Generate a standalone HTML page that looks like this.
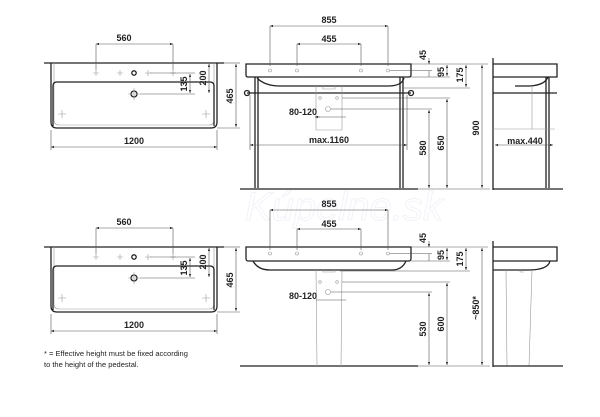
<!DOCTYPE html>
<html><head><meta charset="utf-8"><style>
html,body{margin:0;padding:0;background:#fff;width:600px;height:417px;overflow:hidden}
svg{display:block}
text{font-family:"Liberation Sans",sans-serif;font-weight:bold;font-size:9px;fill:#222}
.t{stroke:#222;fill:none;stroke-width:1.3}
.d{stroke:#555;fill:none;stroke-width:0.6}
.g{stroke:#999;fill:none;stroke-width:0.6}
</style></head><body>
<svg width="600" height="417" viewBox="0 0 600 417" xmlns="http://www.w3.org/2000/svg">
<defs>
<marker id="a" viewBox="0 0 6 6" refX="6" refY="3" markerWidth="5" markerHeight="5" orient="auto-start-reverse"><path d="M0,0.8 L6,3 L0,5.2z" fill="#222"/></marker>
</defs>
<text x="245" y="220" style="font-size:40px;font-style:italic;font-weight:normal;fill:none;stroke:#f1f3f8;stroke-width:1">Kúpelne.sk</text>

<!-- top-left plan view -->
<g id="plan">
<line class="t" x1="44" y1="63" x2="224" y2="63"/>
<path class="t" d="M51,63 V122 Q51,128 57,128 H211 Q217,128 217,122 V63"/>
<path class="g" d="M54,63 V120 Q54,125 59,125 H209 Q214,125 214,120 V63"/>
<path class="t" d="M53,126 V86 Q53,82 57,82 H210 Q214,82 214,86 V126" stroke-width="0.9"/>
<g class="g"><path d="M93,73 h6 M96,70 v6 M117,73 h6 M120,70 v6 M145,73 h6 M148,70 v6 M170,73 h6 M173,70 v6"/></g>
<circle cx="134" cy="73" r="2.2" class="t" stroke-width="1"/>
<circle cx="134" cy="94" r="3" class="t" stroke-width="1"/>
<path class="g" d="M128,94 h12 M134,88 v12 M58,114 h8 M62,110 v8 M202,114 h8 M206,110 v8"/>
<line class="d" x1="96" y1="44" x2="96" y2="70"/><line class="d" x1="173" y1="44" x2="173" y2="70"/>
<line class="d" x1="96" y1="44" x2="173" y2="44" marker-start="url(#a)" marker-end="url(#a)"/>
<text x="124" y="41" text-anchor="middle">560</text>
<line class="d" x1="150" y1="73" x2="195" y2="73"/><line class="d" x1="140" y1="94" x2="195" y2="94"/>
<line class="d" x1="190" y1="74" x2="190" y2="93" marker-start="url(#a)" marker-end="url(#a)"/>
<text transform="translate(187,84) rotate(-90)" text-anchor="middle">135</text>
<line class="d" x1="209" y1="64" x2="209" y2="93" marker-start="url(#a)" marker-end="url(#a)"/>
<text transform="translate(206,78) rotate(-90)" text-anchor="middle">200</text>
<line class="d" x1="224" y1="63" x2="240" y2="63"/><line class="d" x1="217" y1="128" x2="240" y2="128"/>
<line class="d" x1="236" y1="64" x2="236" y2="127" marker-start="url(#a)" marker-end="url(#a)"/>
<text transform="translate(233,96) rotate(-90)" text-anchor="middle">465</text>
<line class="d" x1="51" y1="130" x2="51" y2="150"/><line class="d" x1="217" y1="130" x2="217" y2="150"/>
<line class="d" x1="51" y1="147" x2="217" y2="147" marker-start="url(#a)" marker-end="url(#a)"/>
<text x="134" y="144" text-anchor="middle">1200</text>
</g>
<use href="#plan" transform="translate(0,184)"/>

<!-- top front view (console) -->
<path class="t" d="M246,64 H411 V75 Q411,77 409,77 H248 Q246,77 246,75Z"/>
<path class="t" d="M257,78 Q265,86 280,86 H388 Q402,86 404,78" stroke-width="0.9"/>
<line class="t" x1="255" y1="77" x2="255" y2="188"/><line class="t" x1="258" y1="77" x2="258" y2="188"/>
<line class="t" x1="400" y1="77" x2="400" y2="188"/><line class="t" x1="403" y1="77" x2="403" y2="188"/>
<line class="t" x1="247" y1="93" x2="411" y2="93" stroke-width="1.6"/>
<circle cx="247" cy="93" r="2.5" class="t"/><circle cx="411" cy="93" r="2.5" class="t"/>
<line class="t" x1="240" y1="189" x2="418" y2="189" stroke-width="1.6"/>
<g class="g"><path d="M316,86 V130 H342 V86 M323,86 v3 h12 v-3"/><circle cx="270" cy="70.5" r="1.5"/><circle cx="297" cy="70.5" r="1.5"/><circle cx="361" cy="70.5" r="1.5"/><circle cx="388" cy="70.5" r="1.5"/><circle cx="320" cy="98" r="1.3"/><circle cx="337" cy="98" r="1.3"/><circle cx="328" cy="109" r="2.5"/></g>
<line class="d" x1="270" y1="26" x2="270" y2="66"/><line class="d" x1="388" y1="26" x2="388" y2="66"/>
<line class="d" x1="270" y1="26" x2="388" y2="26" marker-start="url(#a)" marker-end="url(#a)"/>
<text x="329" y="23" text-anchor="middle">855</text>
<line class="d" x1="297" y1="44" x2="297" y2="66"/><line class="d" x1="361" y1="44" x2="361" y2="66"/>
<line class="d" x1="297" y1="44" x2="361" y2="44" marker-start="url(#a)" marker-end="url(#a)"/>
<text x="329" y="42" text-anchor="middle">455</text>
<line class="d" x1="316" y1="117" x2="346" y2="117"/><line class="d" x1="316" y1="117" x2="316" y2="117"/>
<line class="d" x1="315" y1="117" x2="320" y2="117" marker-start="url(#a)"/>
<text x="303" y="115" text-anchor="middle">80-120</text>
<line class="d" x1="250" y1="145" x2="407" y2="145" marker-start="url(#a)" marker-end="url(#a)"/>
<line class="d" x1="250" y1="95" x2="250" y2="150"/><line class="d" x1="407" y1="95" x2="407" y2="150"/>
<text x="329" y="143" text-anchor="middle">max.1160</text>
<line class="d" x1="390" y1="70.5" x2="432" y2="70.5"/><line class="d" x1="411" y1="77" x2="450" y2="77"/>
<line class="d" x1="404" y1="88" x2="470" y2="88"/><line class="d" x1="411" y1="64" x2="488" y2="64"/>
<line class="d" x1="342" y1="98" x2="450" y2="98"/><line class="d" x1="331" y1="109" x2="432" y2="109"/>
<line class="d" x1="429" y1="58" x2="429" y2="64" marker-end="url(#a)"/><line class="d" x1="429" y1="71" x2="429" y2="77"/>
<text transform="translate(426,55) rotate(-90)" text-anchor="middle">45</text>
<line class="d" x1="447" y1="65" x2="447" y2="76" marker-start="url(#a)" marker-end="url(#a)"/>
<text transform="translate(444,72) rotate(-90)" text-anchor="middle">95</text>
<line class="d" x1="466" y1="65" x2="466" y2="87" marker-start="url(#a)" marker-end="url(#a)"/>
<text transform="translate(463,75) rotate(-90)" text-anchor="middle">175</text>
<line class="d" x1="429" y1="110" x2="429" y2="188" marker-start="url(#a)" marker-end="url(#a)"/>
<text transform="translate(426,148) rotate(-90)" text-anchor="middle">580</text>
<line class="d" x1="447" y1="99" x2="447" y2="188" marker-start="url(#a)" marker-end="url(#a)"/>
<text transform="translate(444,143) rotate(-90)" text-anchor="middle">650</text>
<line class="d" x1="482" y1="65" x2="482" y2="188" marker-start="url(#a)" marker-end="url(#a)"/>
<text transform="translate(479,128) rotate(-90)" text-anchor="middle">900</text>
<line class="d" x1="418" y1="189" x2="490" y2="189"/>

<!-- top side view -->
<line class="t" x1="493" y1="58" x2="493" y2="190"/>
<path class="t" d="M493,64 H557 V77 H493"/>
<path class="t" d="M548,77 Q545,85 530,86 H515" stroke-width="0.9"/>
<line class="t" x1="546" y1="77" x2="546" y2="188"/><line class="t" x1="549" y1="77" x2="549" y2="188"/>
<line class="t" x1="493" y1="93" x2="557" y2="93" stroke-width="1.6"/>
<line class="t" x1="493" y1="189" x2="563" y2="189" stroke-width="1.6"/>
<path class="g" d="M493,129 H555 M532,86 V129"/>
<line class="d" x1="495" y1="145" x2="553" y2="145" marker-start="url(#a)" marker-end="url(#a)"/>
<text x="525" y="144" text-anchor="middle">max.440</text>

<!-- bottom front view (pedestal) -->
<path class="t" d="M246,247 H411 V258 Q411,261 409,261 H248 Q246,261 246,258Z"/>
<path class="t" d="M253,261 Q258,270 270,270 H392 Q402,270 406,261"/>
<line class="t" x1="240" y1="366" x2="418" y2="366" stroke-width="1.6"/>
<path class="g" d="M316,270 L317,366 M342,270 L341,366 M323,270 v2 h12 v-2"/>
<g class="g"><circle cx="270" cy="253.5" r="1.5"/><circle cx="297" cy="253.5" r="1.5"/><circle cx="361" cy="253.5" r="1.5"/><circle cx="388" cy="253.5" r="1.5"/><circle cx="320" cy="282" r="1.3"/><circle cx="337" cy="282" r="1.3"/><circle cx="328" cy="292" r="2.5"/></g>
<line class="d" x1="270" y1="210" x2="270" y2="250"/><line class="d" x1="388" y1="210" x2="388" y2="250"/>
<line class="d" x1="270" y1="210" x2="388" y2="210" marker-start="url(#a)" marker-end="url(#a)"/>
<text x="329" y="207" text-anchor="middle">855</text>
<line class="d" x1="297" y1="229" x2="297" y2="250"/><line class="d" x1="361" y1="229" x2="361" y2="250"/>
<line class="d" x1="297" y1="229" x2="361" y2="229" marker-start="url(#a)" marker-end="url(#a)"/>
<text x="329" y="227" text-anchor="middle">455</text>
<line class="d" x1="316" y1="300" x2="346" y2="300"/>
<text x="303" y="299" text-anchor="middle">80-120</text>
<line class="d" x1="390" y1="253.5" x2="432" y2="253.5"/><line class="d" x1="411" y1="261" x2="450" y2="261"/>
<line class="d" x1="340" y1="271" x2="470" y2="271"/><line class="d" x1="411" y1="247" x2="488" y2="247"/>
<line class="d" x1="342" y1="282" x2="450" y2="282"/><line class="d" x1="331" y1="292" x2="432" y2="292"/>
<line class="d" x1="429" y1="241" x2="429" y2="247" marker-end="url(#a)"/><line class="d" x1="429" y1="254" x2="429" y2="261"/>
<text transform="translate(426,238) rotate(-90)" text-anchor="middle">45</text>
<line class="d" x1="447" y1="248" x2="447" y2="260" marker-start="url(#a)" marker-end="url(#a)"/>
<text transform="translate(444,255) rotate(-90)" text-anchor="middle">95</text>
<line class="d" x1="466" y1="248" x2="466" y2="270" marker-start="url(#a)" marker-end="url(#a)"/>
<text transform="translate(463,259) rotate(-90)" text-anchor="middle">175</text>
<line class="d" x1="429" y1="293" x2="429" y2="365" marker-start="url(#a)" marker-end="url(#a)"/>
<text transform="translate(426,329) rotate(-90)" text-anchor="middle">530</text>
<line class="d" x1="447" y1="283" x2="447" y2="365" marker-start="url(#a)" marker-end="url(#a)"/>
<text transform="translate(444,324) rotate(-90)" text-anchor="middle">600</text>
<line class="d" x1="482" y1="248" x2="482" y2="365" marker-start="url(#a)" marker-end="url(#a)"/>
<text transform="translate(479,308) rotate(-90)" text-anchor="middle">~850*</text>
<line class="d" x1="418" y1="366" x2="490" y2="366"/>

<!-- bottom side view -->
<line class="t" x1="493" y1="241" x2="493" y2="367"/>
<path class="t" d="M493,247 H557 V261 H493"/>
<path class="t" d="M550,261 Q548,270 528,270 H493" stroke-width="0.9"/>
<path class="g" d="M520,270 V272 H524 M506,270 L507,366 M532,270 L529,366"/>
<line class="t" x1="493" y1="366" x2="563" y2="366" stroke-width="1.6"/>

<text x="44" y="356" style="font-weight:normal;font-size:7.5px">* = Effective height must be fixed according</text>
<text x="44" y="367" style="font-weight:normal;font-size:7.5px">to the height of the pedestal.</text>
</svg>
</body></html>
